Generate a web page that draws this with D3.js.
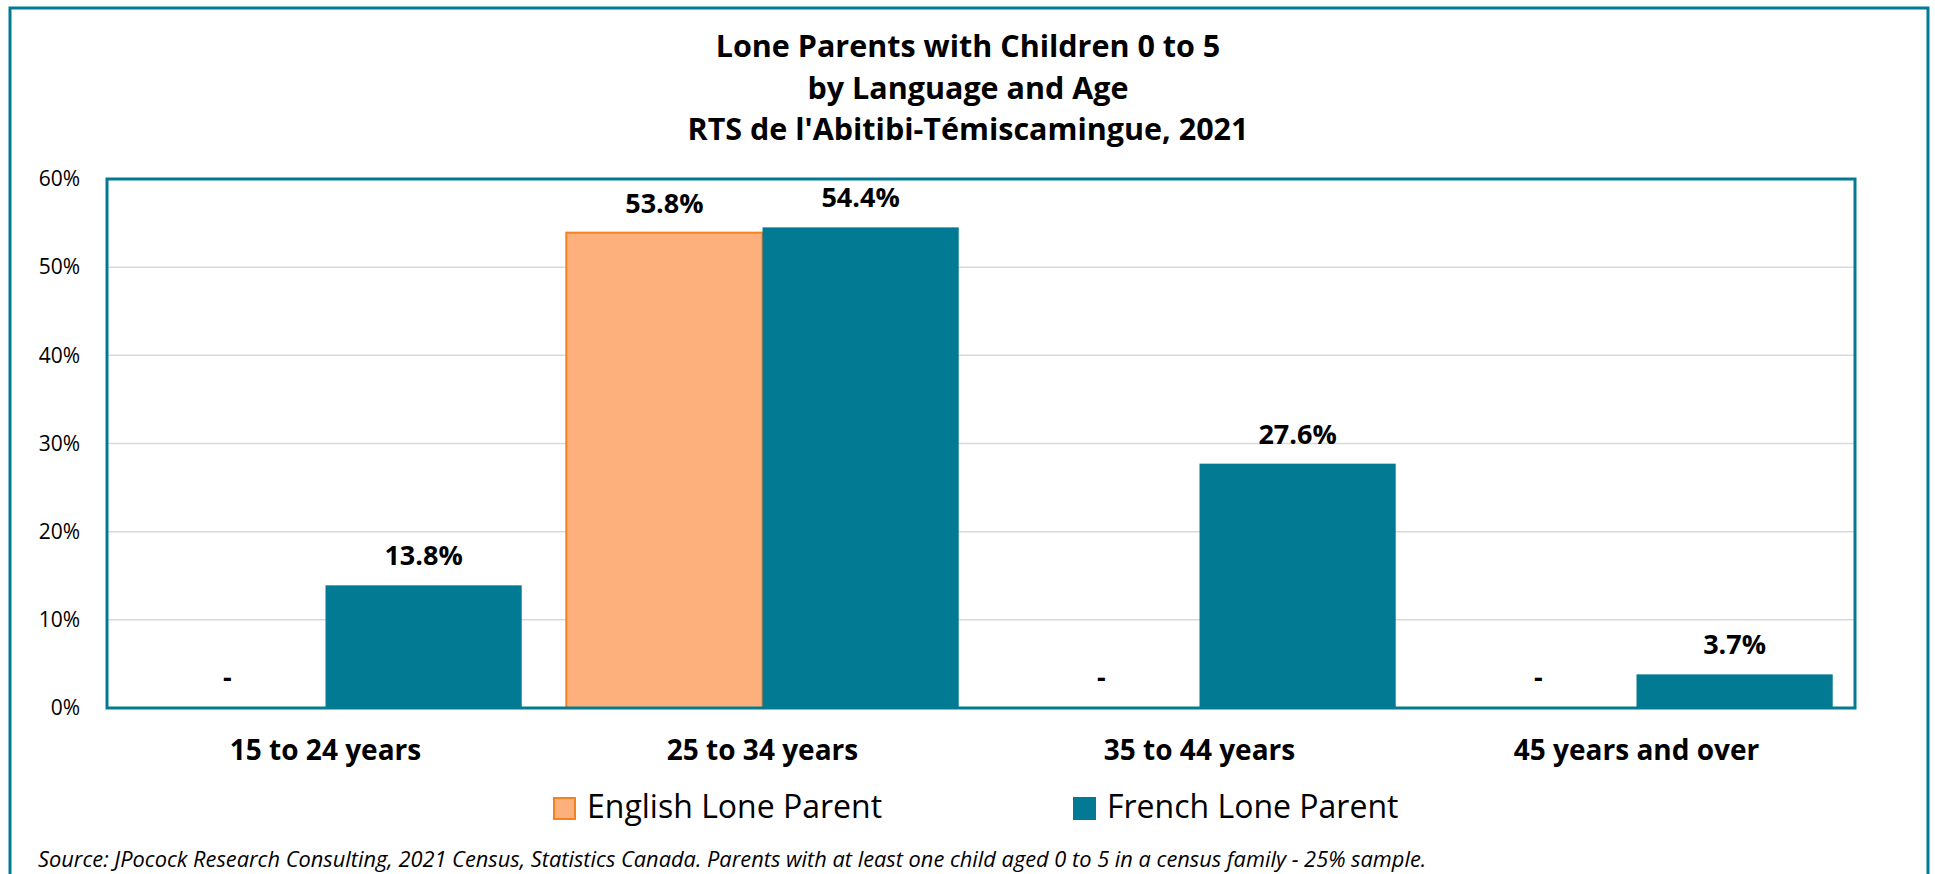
<!DOCTYPE html>
<html>
<head>
<meta charset="utf-8">
<script src="https://cdn.jsdelivr.net/npm/d3@7"></script>
<style>
  html, body { margin: 0; padding: 0; background: #fff; }
  svg { display: block; }
  text { font-family: "Open Sans", sans-serif; fill: #000; }
</style>
</head>
<body>
<div id="chart"></div>
<script>
// Data
const categories = ["15 to 24 years", "25 to 34 years", "35 to 44 years", "45 years and over"];
const seriesNames = ["English Lone Parent", "French Lone Parent"];
const englishValues = [0, 53.8, 0, 0];
const frenchValues = [13.8, 54.4, 27.6, 3.7];
const yTicks = [0, 10, 20, 30, 40, 50, 60];
const titleLines = ["Lone Parents with Children 0 to 5", "by Language and Age", "RTS de l'Abitibi-Témiscamingue, 2021"];
const sourceText = "Source: JPocock Research Consulting, 2021 Census, Statistics Canada. Parents with at least one child aged 0 to 5 in a census family - 25% sample.";

const width = 1935, height = 874;
const margin = {top: 179, right: 80, bottom: 166, left: 107};
const teal = "#037a93";
const fills = {"English Lone Parent": "#fdb07b", "French Lone Parent": "#037a93"};
const strokes = {"English Lone Parent": "#f58220", "French Lone Parent": "none"};

const svg = d3.select("#chart").append("svg")
    .attr("width", width)
    .attr("height", height);

// Cadre extérieur
svg.append("rect")
    .attr("x", 10).attr("y", 8)
    .attr("width", 1918).attr("height", 900)
    .attr("fill", "none")
    .attr("stroke", teal)
    .attr("stroke-width", 3);

// Titre
svg.append("g").selectAll("text")
    .data(titleLines)
    .join("text")
    .attr("x", 968)
    .attr("y", (d, i) => 57 + i * 41.5)
    .attr("text-anchor", "middle")
    .attr("font-size", 30.5)
    .attr("font-weight", 700)
    .text(d => d);

const x0 = d3.scaleBand()
    .domain(categories)
    .range([margin.left, width - margin.right]);

const pad = x0.bandwidth() * 0.051;
const x1 = d3.scaleBand()
    .domain(seriesNames)
    .range([pad, x0.bandwidth() - pad]);

const y = d3.scaleLinear()
    .domain([0, 60])
    .range([height - margin.bottom, margin.top]);

// Grille
svg.append("g").selectAll("line")
    .data(yTicks.slice(1, -1))
    .join("line")
    .attr("x1", margin.left).attr("x2", width - margin.right)
    .attr("y1", d => y(d)).attr("y2", d => y(d))
    .attr("stroke", "#d9d9d9")
    .attr("stroke-width", 1.5);

// Axe Y
const yAxis = svg.append("g")
    .attr("transform", `translate(${margin.left},0)`)
    .call(d3.axisLeft(y).tickValues(yTicks).tickFormat(d => d + "%").tickSize(0).tickPadding(27));
yAxis.select(".domain").remove();
yAxis.selectAll("text")
    .attr("font-family", "Open Sans, sans-serif")
    .attr("font-size", 21)
    .attr("fill", "#000");

// Barres
const rows = categories.map((c, i) => ({
    category: c,
    values: [
        {series: seriesNames[0], value: englishValues[i]},
        {series: seriesNames[1], value: frenchValues[i]}
    ]
}));

const groups = svg.append("g").selectAll("g")
    .data(rows)
    .join("g")
    .attr("transform", d => `translate(${x0(d.category)},0)`);

groups.selectAll("rect")
    .data(d => d.values.filter(v => v.value > 0))
    .join("rect")
    .attr("x", d => x1(d.series))
    .attr("width", x1.bandwidth())
    .attr("y", d => y(d.value) - 1)
    .attr("height", d => y(0) - y(d.value) + 1)
    .attr("fill", d => fills[d.series])
    .attr("stroke", d => strokes[d.series])
    .attr("stroke-width", 2);

groups.selectAll("text")
    .data(d => d.values)
    .join("text")
    .attr("x", d => x1(d.series) + x1.bandwidth() / 2)
    .attr("y", d => y(d.value) - 21)
    .attr("text-anchor", "middle")
    .attr("font-size", 27)
    .attr("font-weight", 700)
    .text(d => d.value > 0 ? d.value.toFixed(1) + "%" : "-");

// Cadre de la zone de tracé
svg.append("rect")
    .attr("x", margin.left).attr("y", margin.top)
    .attr("width", width - margin.left - margin.right)
    .attr("height", height - margin.top - margin.bottom)
    .attr("fill", "none")
    .attr("stroke", teal)
    .attr("stroke-width", 3);

// Axe X
const xAxis = svg.append("g")
    .attr("transform", `translate(0,${height - margin.bottom})`)
    .call(d3.axisBottom(x0).tickSize(0).tickPadding(32));
xAxis.select(".domain").remove();
xAxis.selectAll("text")
    .attr("font-family", "Open Sans, sans-serif")
    .attr("font-size", 28)
    .attr("font-weight", 700)
    .attr("fill", "#000");

// Légende
const legendX = [553, 1073];
const legend = svg.append("g").selectAll("g")
    .data(seriesNames)
    .join("g")
    .attr("transform", (d, i) => `translate(${legendX[i]},797)`);
legend.append("rect")
    .attr("x", 1).attr("y", 1)
    .attr("width", 21).attr("height", 21)
    .attr("fill", d => fills[d])
    .attr("stroke", d => d === seriesNames[0] ? strokes[d] : fills[d])
    .attr("stroke-width", 2);
legend.append("text")
    .attr("x", 34)
    .attr("y", 21)
    .attr("font-size", 32)
    .text(d => d);

// Source
svg.append("text")
    .attr("x", 38)
    .attr("y", 867)
    .attr("font-size", 21.8)
    .attr("font-style", "italic")
    .attr("fill", "#111")
    .text(sourceText);
</script>
</body>
</html>
